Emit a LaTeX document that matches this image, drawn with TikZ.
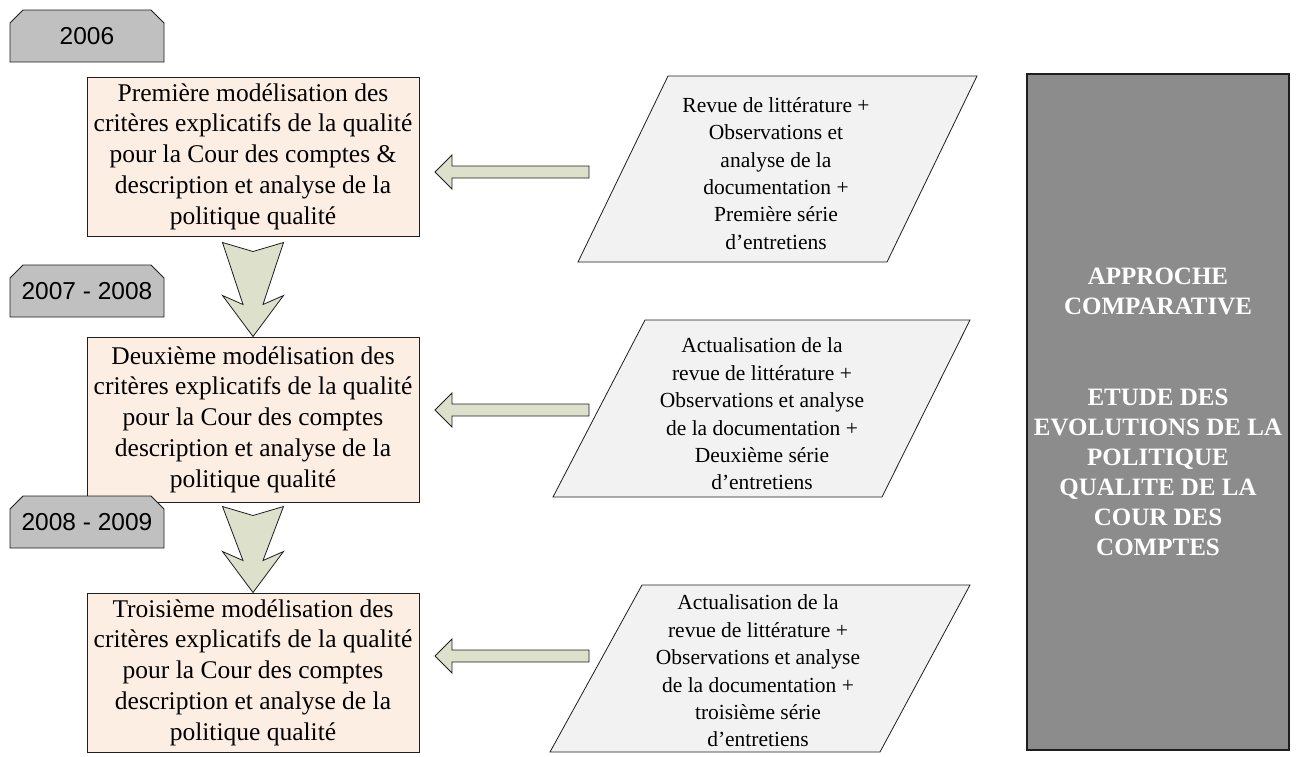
\documentclass[tikz,border=0pt]{standalone}
\usepackage{fontspec}
\setmainfont{Liberation Serif}
\newfontfamily\tagfont{Liberation Sans}
\usetikzlibrary{calc}
\definecolor{pinkfill}{HTML}{FDEEE4}
\definecolor{arrowfill}{HTML}{DDE0CA}
\definecolor{parafill}{HTML}{F2F2F2}
\definecolor{tagfill}{HTML}{C0C0C0}
\definecolor{sidefill}{HTML}{8C8C8C}
\definecolor{edge}{HTML}{1E1E1E}
\tikzset{
  stagebox/.style={draw=edge, line width=1pt, fill=pinkfill, minimum width=332pt, inner sep=0pt,
    align=center, font=\fontsize{25.5}{30.8}\selectfont},
  yeartag/.style={minimum width=154pt, minimum height=52pt, inner sep=0pt,
    font=\tagfont\fontsize{24.5}{28}\selectfont},
  tagshape/.style={draw=edge, line width=0.8pt, fill=tagfill},
  parashape/.style={draw=edge, line width=0.8pt, fill=parafill},
  paratext/.style={align=center, inner sep=0pt, font=\fontsize{21.5}{27.4}\selectfont},
  blockarrow/.style={draw=edge, line width=0.8pt, fill=arrowfill, line join=miter},
  sidebox/.style={draw=edge, line width=1.2pt, fill=sidefill, minimum width=262pt, minimum height=676pt,
    inner sep=0pt, align=center, text=white, font=\bfseries\fontsize{25}{30.1}\selectfont}
}
% #1 = center, #2 = name, #3 = text
\newcommand\yeartagnode[3]{%
  \draw[tagshape] ($(#1)+(-77,26)$) -- ($(#1)+(-77,-13)$) -- ($(#1)+(-64,-26)$)
    -- ($(#1)+(64,-26)$) -- ($(#1)+(77,-13)$) -- ($(#1)+(77,26)$) -- cycle;
  \node[yeartag] (#2) at (#1) {#3};}
\newcommand\downblock[2]{%
  \draw[blockarrow] ($(#1)+(-30.5,0)$) -- ($(#1)+(0,9)$) -- ($(#1)+(30.5,0)$)
    -- ($(#2)+(10,-32)$) -- ($(#2)+(30.5,-41)$) -- (#2) -- ($(#2)+(-30.5,-41)$)
    -- ($(#2)+(-10,-32)$) -- cycle;}
\newcommand\leftblock[2]{%
  \draw[blockarrow] (#1) -- ($(#1)+(17,-17)$) -- ($(#1)+(17,-6)$) -- ($(#2)+(0,-6)$)
    -- ($(#2)+(0,6)$) -- ($(#1)+(17,6)$) -- ($(#1)+(17,17)$) -- cycle;}
\begin{document}
\begin{tikzpicture}[x=1pt,y=-1pt]
\useasboundingbox (0,0) rectangle (1298,756);

% stage boxes
\node[stagebox, minimum height=159pt] (b1) at (253,156.5)
  {Première modélisation des\\critères explicatifs de la qualité\\pour la Cour des comptes \&\\description et analyse de la\\politique qualité};
\node[stagebox, minimum height=165pt] (b2) at (253,419.5)
  {Deuxième modélisation des\\critères explicatifs de la qualité\\pour la Cour des comptes\\description et analyse de la\\politique qualité};
\node[stagebox, minimum height=159pt] (b3) at (253,672.5)
  {Troisième modélisation des\\critères explicatifs de la qualité\\pour la Cour des comptes\\description et analyse de la\\politique qualité};

% year tags
\coordinate (c1) at (87,36);
\coordinate (c2) at (87,291);
\coordinate (c3) at (87,522);
\yeartagnode{c1}{y1}{2006}
\yeartagnode{c2}{y2}{2007 - 2008}
\yeartagnode{c3}{y3}{2008 - 2009}

% down arrows
\coordinate (d1top) at ($(b1.south)+(0,6)$);
\coordinate (d2top) at ($(b2.south)+(0,4)$);
\downblock{d1top}{b2.north}
\downblock{d2top}{b3.north}

% parallelograms
\draw[parashape] (668,76) -- (977,76) -- (887,262) -- (578,262) -- cycle;
\node[paratext] (p1) at (776,173.5)
  {Revue de littérature +\\Observations et\\analyse de la\\documentation +\\Première série\\d’entretiens};
\draw[parashape] (645,320) -- (970,320) -- (882,497) -- (553,497) -- cycle;
\node[paratext] (p2) at (762,414)
  {Actualisation de la\\revue de littérature +\\Observations et analyse\\de la documentation +\\Deuxième série\\d’entretiens};
\draw[parashape] (642,585) -- (970,585) -- (880,752) -- (550,752) -- cycle;
\node[paratext] (p3) at (758,671)
  {Actualisation de la\\revue de littérature +\\Observations et analyse\\de la documentation +\\troisième série\\d’entretiens};

% left arrows
\coordinate (l1tip) at (435,172);  \coordinate (l1end) at (589,172);
\coordinate (l2tip) at (435,410);  \coordinate (l2end) at (589,410);
\coordinate (l3tip) at (435,656);  \coordinate (l3end) at (589,656);
\leftblock{l1tip}{l1end}
\leftblock{l2tip}{l2end}
\leftblock{l3tip}{l3end}

% side box
\node[sidebox] (side) at (1158,412)
  {APPROCHE\\COMPARATIVE\\[30.1pt]\mbox{}\\ETUDE DES\\EVOLUTIONS DE LA\\POLITIQUE\\QUALITE DE LA\\COUR DES\\COMPTES};
\end{tikzpicture}
\end{document}
